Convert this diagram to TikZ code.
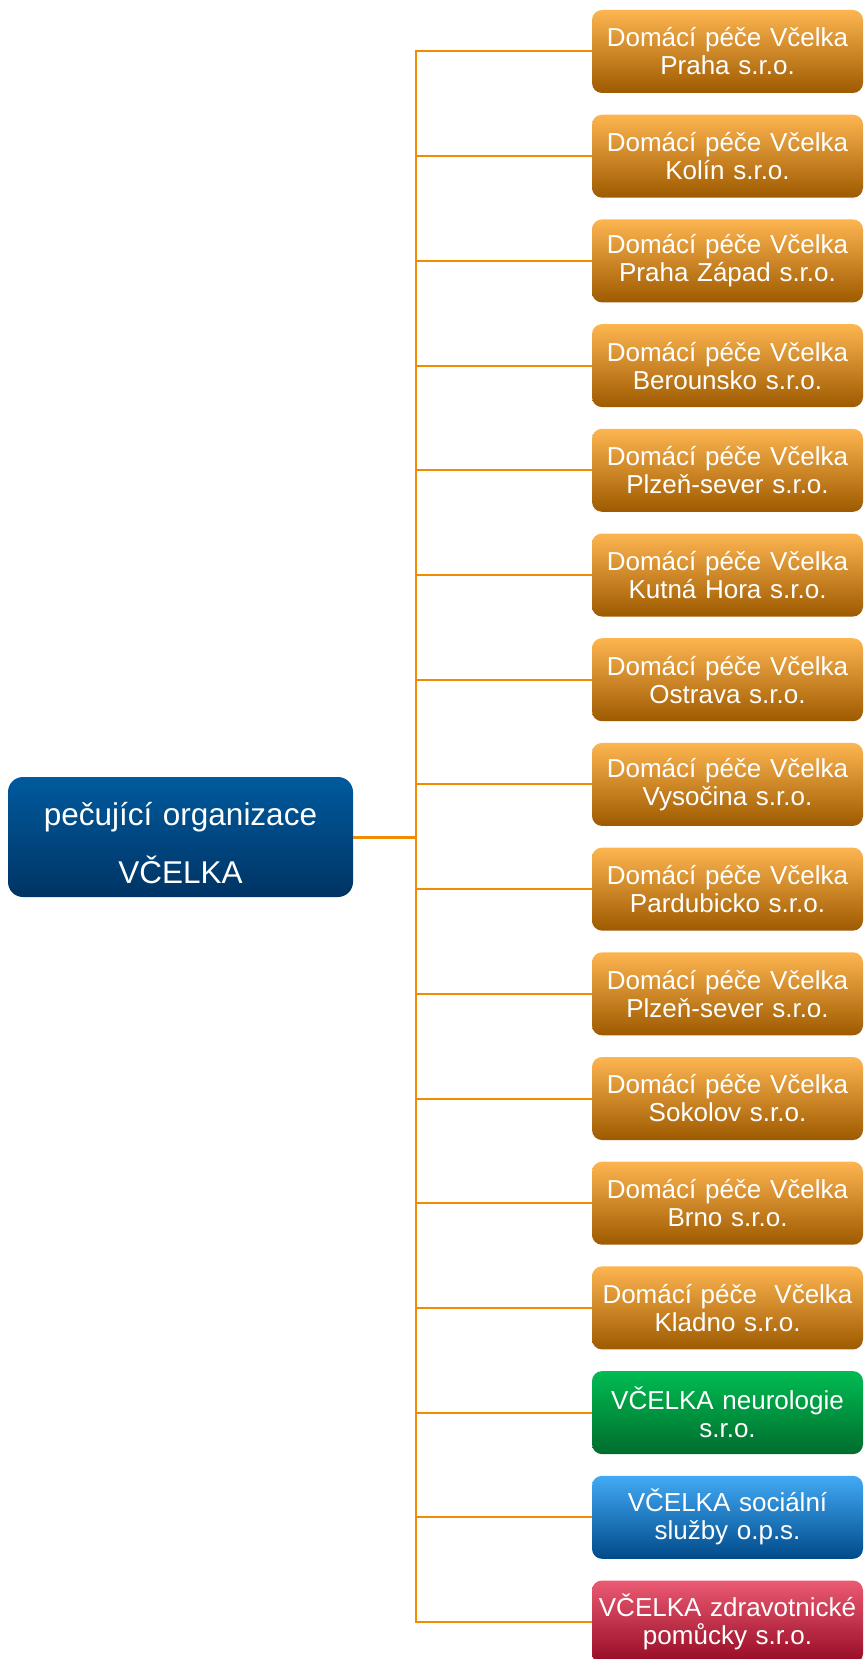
\documentclass[tikz,border=0pt]{standalone}
\usepackage{fontspec}
\setmainfont{Liberation Sans}
\definecolor{orTop}{RGB}{253,181,80}
\definecolor{orMid}{RGB}{243,146,0}
\definecolor{orBot}{RGB}{158,90,0}
\definecolor{rtTop}{RGB}{0,90,158}
\definecolor{rtBot}{RGB}{0,52,100}
\definecolor{grTop}{RGB}{0,188,82}
\definecolor{grMid}{RGB}{0,160,70}
\definecolor{grBot}{RGB}{0,108,45}
\definecolor{blTop}{RGB}{66,170,245}
\definecolor{blMid}{RGB}{0,114,198}
\definecolor{blBot}{RGB}{0,74,138}
\definecolor{rdTop}{RGB}{235,90,115}
\definecolor{rdMid}{RGB}{200,16,46}
\definecolor{rdBot}{RGB}{150,10,35}
\definecolor{lineor}{RGB}{240,140,0}
\begin{document}
\begin{tikzpicture}[x=1pt,y=-1pt,
  leaf/.style={rounded corners=10pt, minimum width=271pt, minimum height=83pt,
    text width=268pt, align=center, text=white, inner sep=0pt,
    font=\fontsize{26}{28}\selectfont},
  orangebox/.style={leaf, top color=orTop, middle color=orMid, bottom color=orBot},
  greenbox/.style={leaf, top color=grTop, middle color=grMid, bottom color=grBot},
  bluebox/.style={leaf, top color=blTop, middle color=blMid, bottom color=blBot},
  redbox/.style={leaf, top color=rdTop, middle color=rdMid, bottom color=rdBot},
  rootbox/.style={rounded corners=15pt, minimum width=345pt, minimum height=120pt,
    text width=340pt, align=center, text=white, inner sep=0pt,
    text height=33pt, text depth=57pt,
    top color=rtTop, bottom color=rtBot, font=\fontsize{31.5}{58}\selectfont},
  link/.style={draw=lineor, line width=2pt},
  rootlink/.style={draw=lineor, line width=3pt}]
\useasboundingbox (0,0) rectangle (864,1659);

\node[rootbox] (root) at (180.5,837) {pečující organizace\\VČELKA};

\node[orangebox] (b1)  at (727.5,51.5)   {Domácí péče Včelka\\Praha s.r.o.};
\node[orangebox] (b2)  at (727.5,156.2)  {Domácí péče Včelka\\Kolín s.r.o.};
\node[orangebox] (b3)  at (727.5,260.9)  {Domácí péče Včelka\\Praha Západ s.r.o.};
\node[orangebox] (b4)  at (727.5,365.6)  {Domácí péče Včelka\\Berounsko s.r.o.};
\node[orangebox] (b5)  at (727.5,470.3)  {Domácí péče Včelka\\Plzeň-sever s.r.o.};
\node[orangebox] (b6)  at (727.5,575.0)  {Domácí péče Včelka\\Kutná Hora s.r.o.};
\node[orangebox] (b7)  at (727.5,679.7)  {Domácí péče Včelka\\Ostrava s.r.o.};
\node[orangebox] (b8)  at (727.5,784.4)  {Domácí péče Včelka\\Vysočina s.r.o.};
\node[orangebox] (b9)  at (727.5,889.1)  {Domácí péče Včelka\\Pardubicko s.r.o.};
\node[orangebox] (b10) at (727.5,993.8)  {Domácí péče Včelka\\Plzeň-sever s.r.o.};
\node[orangebox] (b11) at (727.5,1098.5) {Domácí péče Včelka\\Sokolov s.r.o.};
\node[orangebox] (b12) at (727.5,1203.2) {Domácí péče Včelka\\Brno s.r.o.};
\node[orangebox] (b13) at (727.5,1307.9) {Domácí péče\ \ Včelka\\Kladno s.r.o.};
\node[greenbox]  (b14) at (727.5,1412.6) {VČELKA neurologie\\s.r.o.};
\node[bluebox]   (b15) at (727.5,1517.3) {VČELKA sociální\\služby o.p.s.};
\node[redbox]    (b16) at (727.5,1622.0) {VČELKA zdravotnické\\pomůcky s.r.o.};

\coordinate (j) at (416,837);
\coordinate (jt) at (416,51.5);
\coordinate (jb) at (416,1622.0);
\draw[link] (jt) -- (jb);
\draw[rootlink] (root.east) -- (j);
\foreach \i in {1,...,16} {
  \draw[link] (j) |- (b\i.west);
}
\end{tikzpicture}
\end{document}
